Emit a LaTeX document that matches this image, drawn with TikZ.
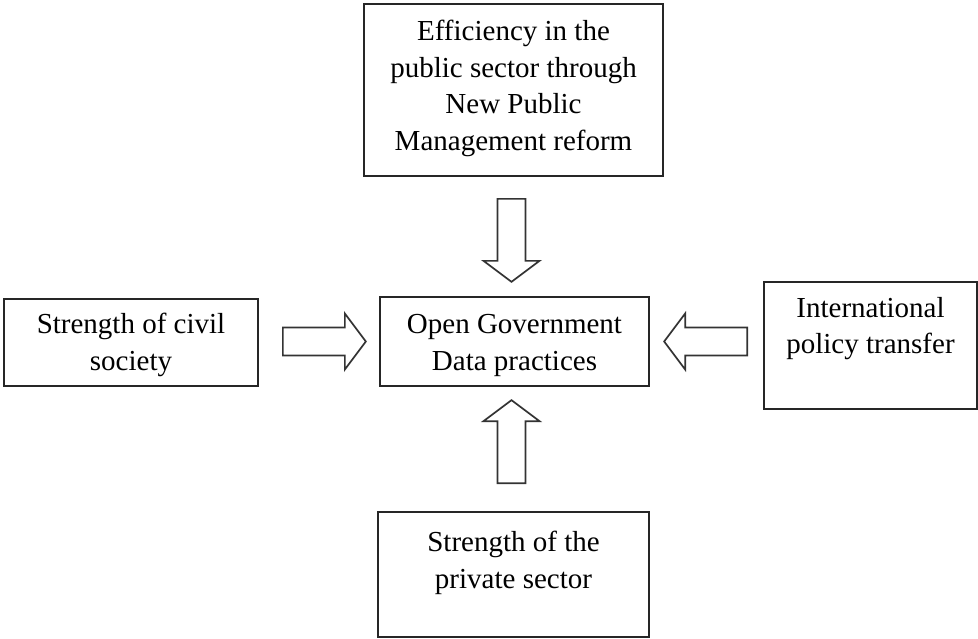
\documentclass[tikz,border=0pt]{standalone}
\usepackage{fontspec}
\setmainfont{Liberation Serif}
\usetikzlibrary{positioning}

\begin{document}
\begin{tikzpicture}[
        x=1pt, y=-1pt,
        box/.style={draw=black!85, line width=1.7pt, inner sep=0pt},
        txt/.style={align=center, inner sep=0pt, font=\fontsize{29}{36.5}\selectfont},
        hollow/.style={draw=black!80, line width=1.7pt, fill=white, line join=miter},
        fatarrow/.pic={
            \draw[hollow] (0,-14) -- (62,-14) -- (62,-28) -- (83,0) -- (62,28) -- (62,14) -- (0,14) -- cycle;
        }
    ]
        \useasboundingbox (0,0) rectangle (978,638);

        % factor boxes, text hung from the top edge
        \foreach \name/\x/\y/\w/\h/\gap/\lines in {
            effic/513.5/90/299/172/17/{Efficiency in the\\public sector through\\New Public\\Management reform},
            ogd/514.5/341.5/269/89/18/{Open Government\\Data practices},
            civil/131/342.5/254/87/15/{Strength of civil\\society},
            intl/870.5/345.5/213/127/16/{International\\policy transfer},
            private/513.5/574.5/271/125/20/{Strength of the\\private sector}} {
            \node[box, minimum width=\w pt, minimum height=\h pt] (\name) at (\x,\y) {};
            \node[txt, below=\gap pt of \name.north] (\name-text) {\lines};
        }

        % block arrows into the centre
        \path (effic.south) ++(-2,22) pic[rotate=-90] {fatarrow};
        \path (civil.east) ++(24,-1) pic {fatarrow};
        \path (intl.west) ++(-16,-4) pic[rotate=180] {fatarrow};
        \path (private.north) ++(-2,-28) pic[rotate=90] {fatarrow};
    \end{tikzpicture}
\end{document}
